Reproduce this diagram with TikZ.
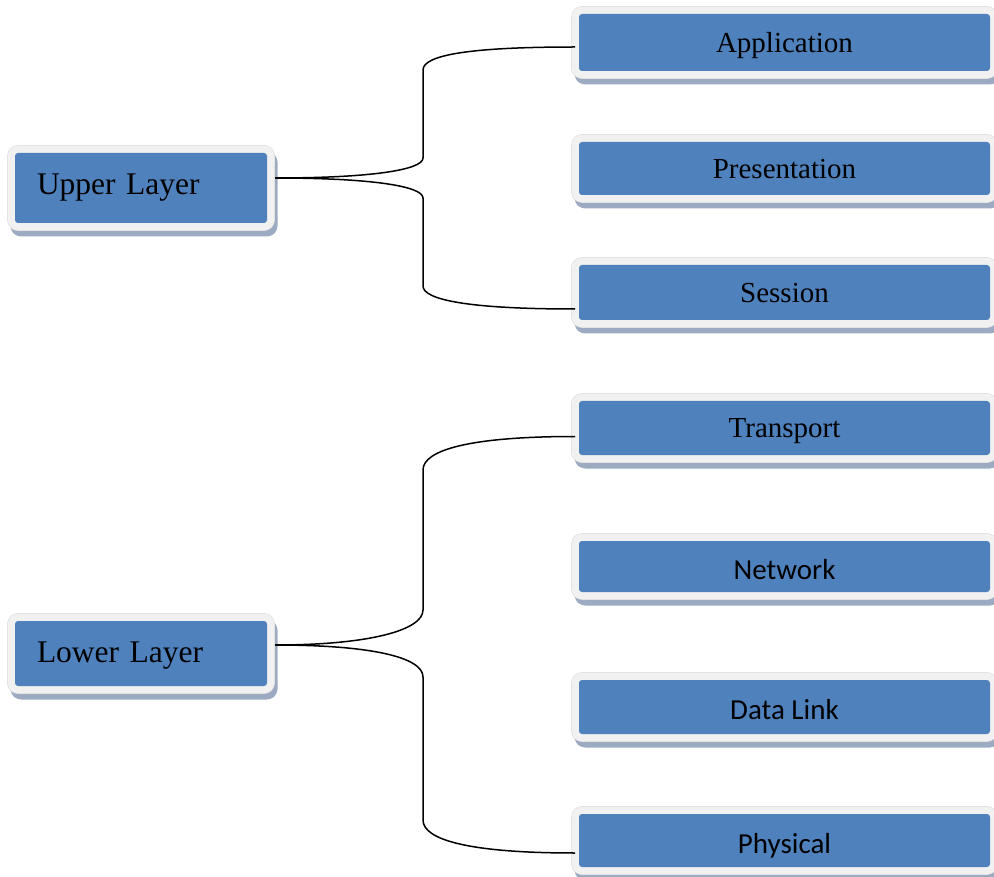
\documentclass[tikz,border=0pt]{standalone}
\usepackage{fontspec}
\setmainfont{Liberation Serif}
\newfontfamily\calibrifont{Carlito}
\definecolor{boxblue}{HTML}{4F81BD}
\definecolor{framecol}{HTML}{F1F1F1}
\definecolor{edgecol}{HTML}{DCDCDC}
\definecolor{shadowcol}{HTML}{9DABC2}
\tikzset{
  layerbox/.style={fill=boxblue, rounded corners=3pt, line join=round, text=black,
    preaction={draw=shadowcol, fill=shadowcol, line width=15pt, transform canvas={shift={(3pt,-6pt)}}},
    preaction={draw=edgecol, line width=15.8pt},
    preaction={draw=framecol, line width=14.6pt}},
  leftbox/.style={layerbox, minimum width=252pt, text width=208pt, inner xsep=22pt, inner ysep=0pt,
    align=left, outer sep=8pt, text depth=5pt, font=\fontsize{31.5pt}{36pt}\selectfont},
  rightbox/.style={layerbox, minimum width=411pt, inner sep=0pt, outer sep=4pt,
    text height=25pt, text depth=5pt, font=\fontsize{29pt}{34pt}\selectfont},
  sansbox/.style={rightbox, text height=30pt, font=\calibrifont\fontsize{29pt}{34pt}\selectfont},
  conn/.style={draw=black, line width=1.5pt}
}
\begin{document}
\begin{tikzpicture}[x=1pt, y=-1pt]
\useasboundingbox (0,0) rectangle (994,877);
% left boxes
\node[leftbox, minimum height=70pt, text height=19pt] (upper) at (141,188) {Upper Layer};
\node[leftbox, minimum height=65pt, text height=22pt] (lower) at (141,653.5) {Lower Layer};
% right boxes
\node[rightbox, minimum height=57pt] (app) at (784.5,42.5) {Application};
\node[rightbox, minimum height=53pt] (pres) at (784.5,168.5) {Presentation};
\node[rightbox, minimum height=55pt] (sess) at (784.5,292.5) {Session};
\node[rightbox, minimum height=54pt] (trans) at (784.5,428) {Transport};
\node[sansbox, minimum height=51pt] (net) at (784.5,566.5) {Network};
\node[sansbox, minimum height=54pt] (dl) at (784.5,707) {Data Link};
\node[sansbox, minimum height=53pt] (phys) at (784.5,840.5) {Physical};
% connectors
\draw[conn] ([yshift=10pt]upper.east) .. controls (370,178) and (423,170) .. (423,158)
  -- (423,70) .. controls (423,55) and (470,47) .. ([yshift=-4.5pt]app.west);
\draw[conn] ([yshift=10pt]upper.east) .. controls (370,178) and (423,186) .. (423,198)
  -- (423,286) .. controls (423,300) and (470,309) .. ([yshift=-16.5pt]sess.west);
\draw[conn] ([yshift=8.5pt]lower.east) .. controls (370,645) and (423,630) .. (423,610)
  -- (423,470) .. controls (423,450) and (470,436.5) .. ([yshift=-8.5pt]trans.west);
\draw[conn] ([yshift=8.5pt]lower.east) .. controls (370,645) and (423,657) .. (423,677)
  -- (423,820) .. controls (423,840) and (470,853) .. ([yshift=-12.5pt]phys.west);
\end{tikzpicture}
\end{document}
